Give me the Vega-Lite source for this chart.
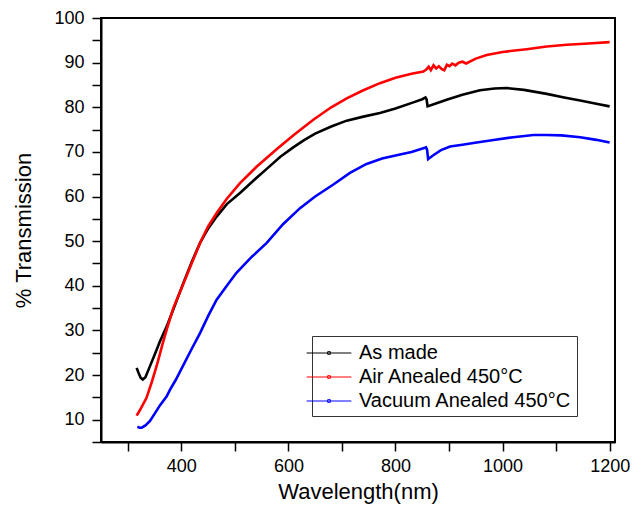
{
  "$schema": "https://vega.github.io/schema/vega-lite/v6.json",
  "width": 514,
  "height": 424,
  "autosize": "none",
  "padding": {"left": 101, "top": 18, "right": 27, "bottom": 73},
  "background": "white",
  "config": {
    "font": "Liberation Sans",
    "view": {"stroke": "black", "strokeWidth": 2},
    "axis": {"grid": false, "domainColor": "black", "domainWidth": 2, "tickColor": "black", "tickWidth": 1.5, "labelColor": "black", "titleColor": "black", "labelFontSize": 18, "titleFontSize": 22, "titleFontWeight": "normal", "labelFont": "Liberation Sans", "titleFont": "Liberation Sans"}
  },
  "datasets": {
    "spectra": [
      {"s": "As made", "x": 316.6, "y": 21.6},
      {"s": "As made", "x": 320, "y": 20.5},
      {"s": "As made", "x": 324, "y": 19.4},
      {"s": "As made", "x": 328, "y": 19.0},
      {"s": "As made", "x": 333, "y": 19.5},
      {"s": "As made", "x": 341.5, "y": 22},
      {"s": "As made", "x": 350, "y": 24.5},
      {"s": "As made", "x": 360, "y": 27.5},
      {"s": "As made", "x": 372.7, "y": 30.9},
      {"s": "As made", "x": 385, "y": 34.7},
      {"s": "As made", "x": 403.7, "y": 40.6},
      {"s": "As made", "x": 420, "y": 45.5},
      {"s": "As made", "x": 435, "y": 49.6},
      {"s": "As made", "x": 450, "y": 52.8},
      {"s": "As made", "x": 466, "y": 55.5},
      {"s": "As made", "x": 485, "y": 58.3},
      {"s": "As made", "x": 509.6, "y": 60.8},
      {"s": "As made", "x": 535, "y": 63.6},
      {"s": "As made", "x": 559.5, "y": 66.2},
      {"s": "As made", "x": 585, "y": 68.9},
      {"s": "As made", "x": 609, "y": 71.0},
      {"s": "As made", "x": 630, "y": 72.7},
      {"s": "As made", "x": 650, "y": 74.1},
      {"s": "As made", "x": 680, "y": 75.7},
      {"s": "As made", "x": 708.9, "y": 77.0},
      {"s": "As made", "x": 740, "y": 77.9},
      {"s": "As made", "x": 771, "y": 78.7},
      {"s": "As made", "x": 800, "y": 79.7},
      {"s": "As made", "x": 833.4, "y": 81.1},
      {"s": "As made", "x": 850, "y": 81.8},
      {"s": "As made", "x": 856, "y": 82.2},
      {"s": "As made", "x": 858, "y": 81.8},
      {"s": "As made", "x": 860, "y": 80.2},
      {"s": "As made", "x": 870, "y": 80.6},
      {"s": "As made", "x": 895.6, "y": 81.7},
      {"s": "As made", "x": 925, "y": 82.8},
      {"s": "As made", "x": 957.9, "y": 83.8},
      {"s": "As made", "x": 985, "y": 84.2},
      {"s": "As made", "x": 1007.7, "y": 84.3},
      {"s": "As made", "x": 1040, "y": 83.9},
      {"s": "As made", "x": 1082.6, "y": 83.0},
      {"s": "As made", "x": 1115, "y": 82.2},
      {"s": "As made", "x": 1144.9, "y": 81.5},
      {"s": "As made", "x": 1175, "y": 80.8},
      {"s": "As made", "x": 1200, "y": 80.2},
      {"s": "Air Anealed 450°C", "x": 316.6, "y": 10.9},
      {"s": "Air Anealed 450°C", "x": 322, "y": 12},
      {"s": "Air Anealed 450°C", "x": 328, "y": 13.3},
      {"s": "Air Anealed 450°C", "x": 335, "y": 14.9},
      {"s": "Air Anealed 450°C", "x": 345, "y": 18.5},
      {"s": "Air Anealed 450°C", "x": 355, "y": 22.5},
      {"s": "Air Anealed 450°C", "x": 365, "y": 27},
      {"s": "Air Anealed 450°C", "x": 372.7, "y": 30.2},
      {"s": "Air Anealed 450°C", "x": 385, "y": 35},
      {"s": "Air Anealed 450°C", "x": 403.7, "y": 40.4},
      {"s": "Air Anealed 450°C", "x": 420, "y": 45.2},
      {"s": "Air Anealed 450°C", "x": 435, "y": 49.6},
      {"s": "Air Anealed 450°C", "x": 450, "y": 53.3},
      {"s": "Air Anealed 450°C", "x": 466, "y": 56.3},
      {"s": "Air Anealed 450°C", "x": 485, "y": 59.5},
      {"s": "Air Anealed 450°C", "x": 509.6, "y": 63.0},
      {"s": "Air Anealed 450°C", "x": 540, "y": 66.6},
      {"s": "Air Anealed 450°C", "x": 578, "y": 70.6},
      {"s": "Air Anealed 450°C", "x": 610, "y": 73.8},
      {"s": "Air Anealed 450°C", "x": 646.5, "y": 77.2},
      {"s": "Air Anealed 450°C", "x": 680, "y": 80.0},
      {"s": "Air Anealed 450°C", "x": 708.9, "y": 82.0},
      {"s": "Air Anealed 450°C", "x": 740, "y": 83.8},
      {"s": "Air Anealed 450°C", "x": 771, "y": 85.4},
      {"s": "Air Anealed 450°C", "x": 800, "y": 86.6},
      {"s": "Air Anealed 450°C", "x": 830, "y": 87.5},
      {"s": "Air Anealed 450°C", "x": 852, "y": 88.0},
      {"s": "Air Anealed 450°C", "x": 858, "y": 88.5},
      {"s": "Air Anealed 450°C", "x": 862, "y": 89.1},
      {"s": "Air Anealed 450°C", "x": 866, "y": 88.3},
      {"s": "Air Anealed 450°C", "x": 871, "y": 89.4},
      {"s": "Air Anealed 450°C", "x": 876, "y": 88.7},
      {"s": "Air Anealed 450°C", "x": 881, "y": 89.2},
      {"s": "Air Anealed 450°C", "x": 886, "y": 88.6},
      {"s": "Air Anealed 450°C", "x": 891, "y": 88.3},
      {"s": "Air Anealed 450°C", "x": 896, "y": 89.5},
      {"s": "Air Anealed 450°C", "x": 901, "y": 89.2},
      {"s": "Air Anealed 450°C", "x": 906, "y": 89.8},
      {"s": "Air Anealed 450°C", "x": 912, "y": 89.4},
      {"s": "Air Anealed 450°C", "x": 918, "y": 90.0},
      {"s": "Air Anealed 450°C", "x": 925, "y": 90.2},
      {"s": "Air Anealed 450°C", "x": 932, "y": 89.8},
      {"s": "Air Anealed 450°C", "x": 950, "y": 90.9},
      {"s": "Air Anealed 450°C", "x": 970.4, "y": 91.7},
      {"s": "Air Anealed 450°C", "x": 1000, "y": 92.4},
      {"s": "Air Anealed 450°C", "x": 1045, "y": 93.0},
      {"s": "Air Anealed 450°C", "x": 1082.6, "y": 93.6},
      {"s": "Air Anealed 450°C", "x": 1120, "y": 94.0},
      {"s": "Air Anealed 450°C", "x": 1160, "y": 94.3},
      {"s": "Air Anealed 450°C", "x": 1200, "y": 94.6},
      {"s": "Vacuum Anealed 450°C", "x": 317.9, "y": 8.4},
      {"s": "Vacuum Anealed 450°C", "x": 322, "y": 8.2},
      {"s": "Vacuum Anealed 450°C", "x": 326, "y": 8.2},
      {"s": "Vacuum Anealed 450°C", "x": 333, "y": 8.7},
      {"s": "Vacuum Anealed 450°C", "x": 341.5, "y": 9.7},
      {"s": "Vacuum Anealed 450°C", "x": 350, "y": 11.3},
      {"s": "Vacuum Anealed 450°C", "x": 360, "y": 13.2},
      {"s": "Vacuum Anealed 450°C", "x": 372.7, "y": 15.25},
      {"s": "Vacuum Anealed 450°C", "x": 379, "y": 16.75},
      {"s": "Vacuum Anealed 450°C", "x": 390, "y": 19},
      {"s": "Vacuum Anealed 450°C", "x": 405, "y": 22.5},
      {"s": "Vacuum Anealed 450°C", "x": 420, "y": 26},
      {"s": "Vacuum Anealed 450°C", "x": 435, "y": 29.4},
      {"s": "Vacuum Anealed 450°C", "x": 450, "y": 33.2},
      {"s": "Vacuum Anealed 450°C", "x": 466, "y": 36.9},
      {"s": "Vacuum Anealed 450°C", "x": 485, "y": 40},
      {"s": "Vacuum Anealed 450°C", "x": 503, "y": 42.9},
      {"s": "Vacuum Anealed 450°C", "x": 530, "y": 46.3},
      {"s": "Vacuum Anealed 450°C", "x": 559.5, "y": 49.6},
      {"s": "Vacuum Anealed 450°C", "x": 590, "y": 53.8},
      {"s": "Vacuum Anealed 450°C", "x": 621.7, "y": 57.4},
      {"s": "Vacuum Anealed 450°C", "x": 650, "y": 60},
      {"s": "Vacuum Anealed 450°C", "x": 684, "y": 62.7},
      {"s": "Vacuum Anealed 450°C", "x": 715, "y": 65.3},
      {"s": "Vacuum Anealed 450°C", "x": 746, "y": 67.3},
      {"s": "Vacuum Anealed 450°C", "x": 775, "y": 68.5},
      {"s": "Vacuum Anealed 450°C", "x": 808.5, "y": 69.4},
      {"s": "Vacuum Anealed 450°C", "x": 830, "y": 70},
      {"s": "Vacuum Anealed 450°C", "x": 852, "y": 70.8},
      {"s": "Vacuum Anealed 450°C", "x": 857, "y": 71.0},
      {"s": "Vacuum Anealed 450°C", "x": 859, "y": 70.5},
      {"s": "Vacuum Anealed 450°C", "x": 861, "y": 68.4},
      {"s": "Vacuum Anealed 450°C", "x": 870, "y": 69.2},
      {"s": "Vacuum Anealed 450°C", "x": 885, "y": 70.4},
      {"s": "Vacuum Anealed 450°C", "x": 902, "y": 71.2},
      {"s": "Vacuum Anealed 450°C", "x": 925, "y": 71.6},
      {"s": "Vacuum Anealed 450°C", "x": 945.5, "y": 72.0},
      {"s": "Vacuum Anealed 450°C", "x": 980, "y": 72.6},
      {"s": "Vacuum Anealed 450°C", "x": 1020, "y": 73.3},
      {"s": "Vacuum Anealed 450°C", "x": 1057.6, "y": 73.8},
      {"s": "Vacuum Anealed 450°C", "x": 1082.6, "y": 73.8},
      {"s": "Vacuum Anealed 450°C", "x": 1110, "y": 73.7},
      {"s": "Vacuum Anealed 450°C", "x": 1145, "y": 73.3},
      {"s": "Vacuum Anealed 450°C", "x": 1175, "y": 72.7},
      {"s": "Vacuum Anealed 450°C", "x": 1200, "y": 72.1}
    ]
  },
  "data": {"name": "spectra"},
  "mark": {"type": "line", "strokeWidth": 2.6},
  "encoding": {
    "x": {
      "field": "x", "type": "quantitative",
      "scale": {"domain": [250, 1210], "nice": false, "zero": false},
      "axis": {
        "title": "Wavelength(nm)", "orient": "bottom",
        "values": [300, 400, 500, 600, 700, 800, 900, 1000, 1100, 1200],
        "format": "d",
        "labelExpr": "datum.value % 200 === 0 ? datum.label : ''",
        "tickSize": 9, "labelPadding": 6, "titlePadding": 6,
        "encode": {"ticks": {"update": {"y2": {"signal": "datum.value % 200 === 0 ? 9 : 5"}}}}
      }
    },
    "y": {
      "field": "y", "type": "quantitative",
      "scale": {"domain": [5, 100], "nice": false, "zero": false},
      "axis": {
        "title": "% Transmission", "orient": "left",
        "values": [5, 10, 15, 20, 25, 30, 35, 40, 45, 50, 55, 60, 65, 70, 75, 80, 85, 90, 95, 100],
        "labelExpr": "datum.value % 10 === 0 ? datum.label : ''",
        "tickSize": 9, "labelPadding": 8, "titlePadding": 18,
        "encode": {"ticks": {"update": {"x2": {"signal": "datum.value % 10 === 0 ? -9 : -5"}}}}
      }
    },
    "color": {
      "field": "s", "type": "nominal",
      "scale": {"domain": ["As made", "Air Anealed 450°C", "Vacuum Anealed 450°C"], "range": ["#000000", "#ff0000", "#0000ff"]},
      "legend": {
        "title": null, "orient": "none", "legendX": 211, "legendY": 318,
        "symbolType": "M-2,0H2M-0.12,-0.12H0.12V0.12H-0.12Z",
        "symbolSize": 500, "symbolStrokeWidth": 1,
        "labelFontSize": 20, "labelFont": "Liberation Sans", "labelColor": "black",
        "labelOffset": 18, "rowPadding": 2, "labelLimit": 0,
        "strokeColor": "#333333", "fillColor": "white", "padding": 5,
        "symbolOffset": 0
      }
    }
  }
}
